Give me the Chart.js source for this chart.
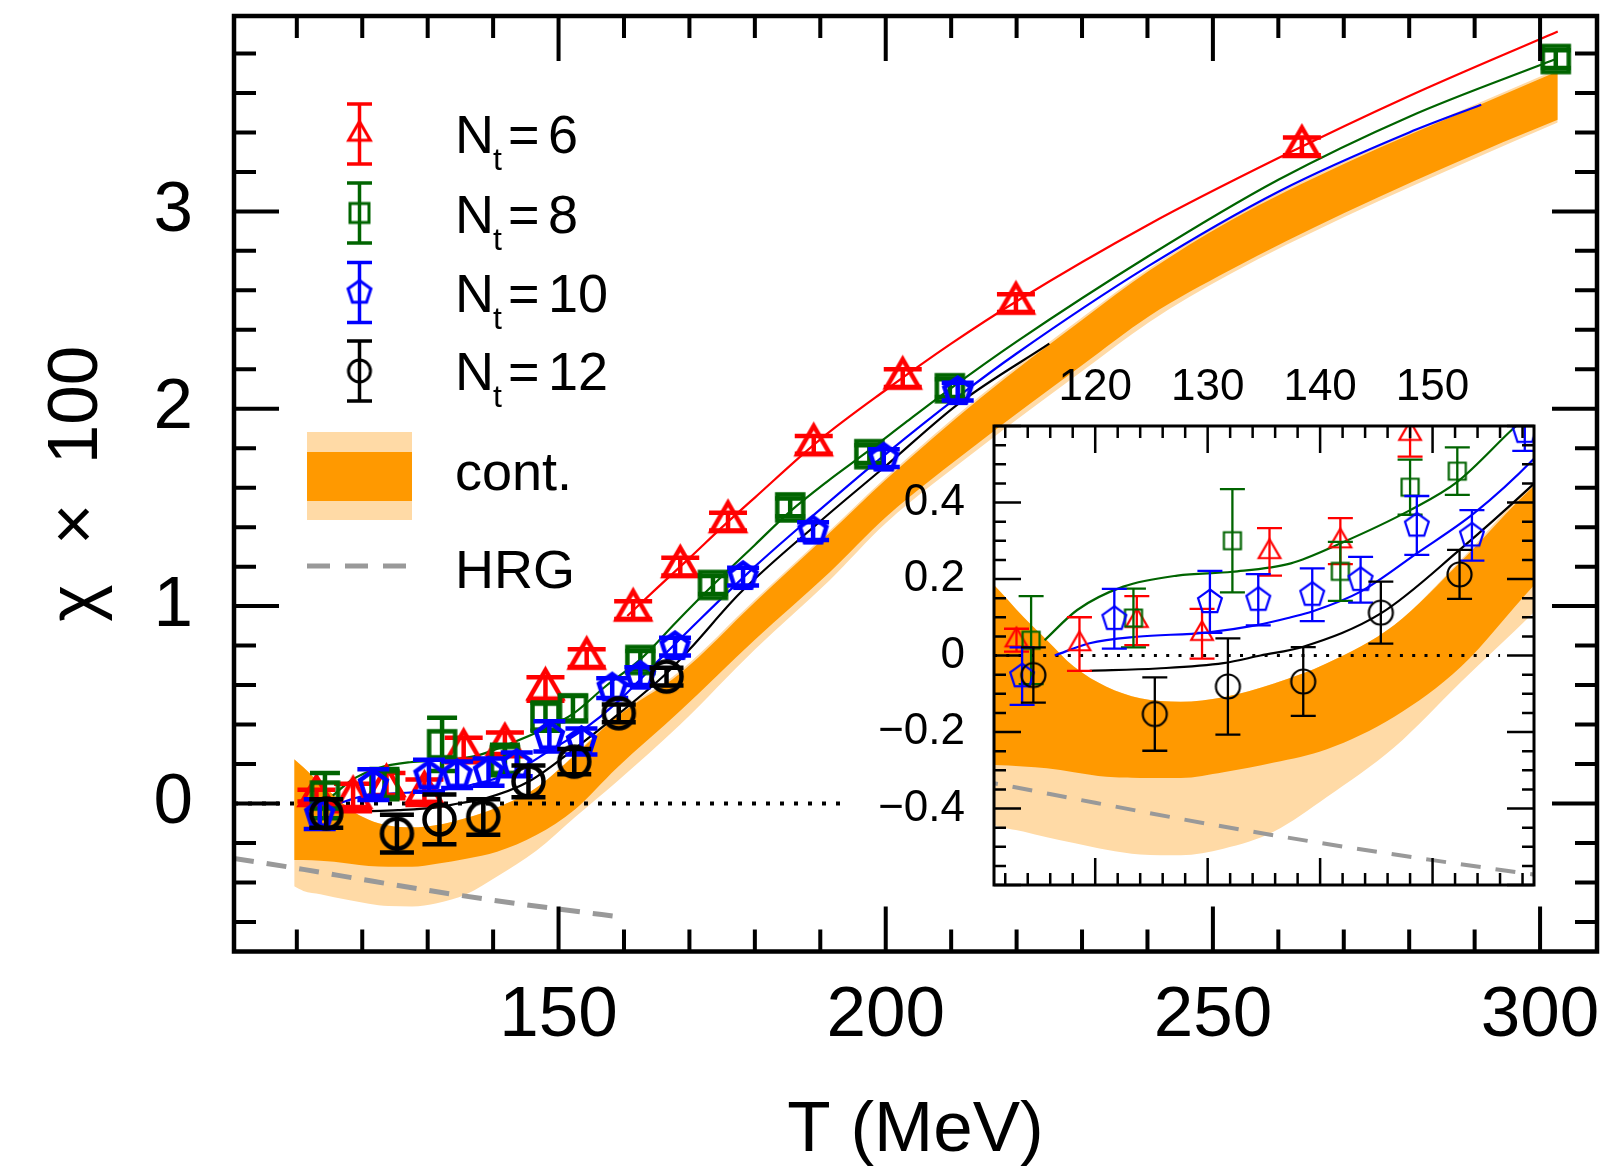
<!DOCTYPE html>
<html lang="en">
<head>
<meta charset="UTF-8">
<title>chi x 100 vs T</title>
<script src="https://cdn.jsdelivr.net/npm/chart.js"></script>
<style>
  body { margin: 0; background: #fff; overflow: hidden; }
  #wrap { position: relative; width: 1610px; height: 1167px; }
  #mainChart { position: absolute; left: 0; top: 0; }
  #insetChart { position: absolute; left: 830px; top: 340px; }
</style>
</head>
<body>
<div id="wrap">
  <canvas id="mainChart" width="1610" height="1167"></canvas>
  <canvas id="insetChart" width="720" height="560"></canvas>
</div>
<script>
const FONT = '"Liberation Sans", Arial, sans-serif';
const RED = '#ff0000', GREEN = '#006400', BLUE = '#0000ff', BLACK = '#000000';
const ORANGE = '#ff9900', ORANGE_LIGHT = '#ffdaa6', GREY = '#999999';

// lattice points, one array per Nt
const tempNt6 = [113.0, 118.6, 123.7, 129.5, 135.5, 141.8, 148.0, 154.3, 161.4, 168.6, 175.9, 189.0, 202.6, 219.9, 263.6];
const chiNt6  = [0.040, 0.030, 0.091, 0.057, 0.271, 0.299, 0.580, 0.736, 0.980, 1.200, 1.428, 1.817, 2.155, 2.535, 3.329];
const errNt6  = [0.030, 0.070, 0.064, 0.065, 0.062, 0.060, 0.060, 0.045, 0.045, 0.045, 0.045, 0.045, 0.045, 0.045, 0.045];

const tempNt8 = [114.3, 123.4, 132.2, 141.8, 148.0, 152.2, 162.5, 173.6, 185.4, 197.5, 209.8, 302.4];
const chiNt8  = [0.040, 0.098, 0.300, 0.220, 0.440, 0.482, 0.727, 1.107, 1.500, 1.770, 2.104, 3.772];
const errNt8  = [0.115, 0.077, 0.135, 0.077, 0.072, 0.062, 0.045, 0.045, 0.045, 0.045, 0.045, 0.045];

const tempNt10 = [113.5, 121.7, 130.2, 134.5, 139.3, 143.6, 148.6, 153.5, 158.2, 162.5, 167.8, 178.2, 188.9, 199.7, 211.0];
const chiNt10  = [-0.054, 0.096, 0.140, 0.146, 0.159, 0.198, 0.340, 0.314, 0.585, 0.645, 0.795, 1.150, 1.380, 1.750, 2.087];
const errNt10  = [0.075, 0.078, 0.081, 0.067, 0.069, 0.060, 0.077, 0.066, 0.050, 0.045, 0.045, 0.045, 0.045, 0.045, 0.045];

const tempNt12 = [114.5, 125.3, 131.8, 138.5, 145.4, 152.4, 159.2, 166.5];
const chiNt12  = [-0.051, -0.153, -0.081, -0.068, 0.112, 0.212, 0.457, 0.643];
const errNt12  = [0.072, 0.096, 0.126, 0.090, 0.081, 0.064, 0.045, 0.045];

// fitted curves
const fitTNt6   = [160.5, 165, 170, 175, 180, 190, 200, 210, 220, 240, 260, 280, 302.7];
const fitChiNt6 = [0.95, 1.09, 1.243, 1.40, 1.55, 1.845, 2.095, 2.33, 2.545, 2.93, 3.27, 3.585, 3.912];

const fitTNt8   = [115.5, 118.4, 122.5, 127.3, 132.2, 137.4, 141.8, 148, 152.2, 157.2, 162.5, 168, 173.6, 180, 185.4, 191, 197.5, 203, 209.8, 220, 240, 260, 280, 302.4];
const fitChiNt8 = [0.04, 0.119, 0.18, 0.209, 0.219, 0.241, 0.293, 0.38, 0.454, 0.594, 0.73, 0.92, 1.107, 1.31, 1.48, 1.63, 1.79, 1.93, 2.10, 2.34, 2.77, 3.16, 3.48, 3.772];

const fitTNt10   = [116.4, 119.5, 123.7, 129.9, 134.5, 137.4, 139.3, 143.6, 148.6, 153.7, 158.9, 165, 170, 180, 190, 200, 211, 220, 240, 260, 280, 291];
const fitChiNt10 = [0.0, 0.032, 0.049, 0.06, 0.08, 0.1, 0.115, 0.167, 0.267, 0.372, 0.511, 0.715, 0.88, 1.20, 1.49, 1.77, 2.06, 2.28, 2.72, 3.10, 3.40, 3.54];

const fitTNt12   = [119.5, 125.5, 131.4, 134.7, 138.5, 145.4, 152.4, 158.9, 166.5, 170, 177.7, 190, 200, 211.3, 225];
const fitChiNt12 = [-0.04, -0.034, -0.02, 0.0, 0.023, 0.11, 0.276, 0.446, 0.66, 0.78, 1.065, 1.43, 1.71, 2.03, 2.33];

// continuum band
const bandT       = [109.6, 111, 113.6, 115.7, 118.1, 121, 124, 127.6, 131.4, 135.9, 140.6, 146.6, 152.5, 158.9, 168.6, 180, 191.4, 200, 214.3, 230, 240.3, 252.5, 270, 291.5, 302.7];
const bandDarkHi  = [0.224, 0.184, 0.101, 0.04, -0.029, -0.082, -0.112, -0.121, -0.109, -0.073, -0.02, 0.08, 0.245, 0.44, 0.66, 1.02, 1.37, 1.64, 2.05, 2.45, 2.70, 2.95, 3.24, 3.55, 3.71];
const bandDarkLo  = [-0.286, -0.286, -0.29, -0.295, -0.305, -0.317, -0.32, -0.32, -0.305, -0.28, -0.245, -0.16, -0.03, 0.18, 0.47, 0.83, 1.17, 1.45, 1.83, 2.22, 2.47, 2.70, 2.99, 3.31, 3.464];
const bandLightHi = [0.224, 0.184, 0.101, 0.04, -0.029, -0.082, -0.112, -0.121, -0.109, -0.073, -0.02, 0.08, 0.25, 0.45, 0.672, 1.032, 1.382, 1.652, 2.062, 2.462, 2.712, 2.962, 3.252, 3.562, 3.722];
const bandLightLo = [-0.42, -0.443, -0.46, -0.475, -0.49, -0.508, -0.52, -0.522, -0.505, -0.46, -0.37, -0.24, -0.07, 0.11, 0.40, 0.78, 1.13, 1.42, 1.80, 2.19, 2.44, 2.68, 2.97, 3.29, 3.45];

// HRG and the zero reference
const hrgT   = [100.4, 111, 120, 130, 140, 150, 160];
const hrgChi = [-0.278, -0.334, -0.385, -0.44, -0.49, -0.535, -0.577];
const zeroMainT  = [100.4, 193.5];
const zeroInsetT = [111, 156];

// tick labels
const mainXLabels  = [150, 200, 250, 300];
const mainYLabels  = [0, 1, 2, 3];
const insetXLabels = [120, 130, 140, 150];
const insetYLabels = [-0.4, -0.2, 0, 0.2, 0.4];
const insetTMax = 159;
const legendNt = ['6', '8', '10', '12'];

Chart.defaults.font.family = FONT;
Chart.defaults.color = '#000';

function pts(xs, ys) { return xs.map((x, i) => ({ x: x, y: ys[i] })); }
function onStep(v, step) { const q = v / step; return Math.abs(q - Math.round(q)) < 1e-6; }
function inList(v, list) { return list.some(l => Math.abs(l - v) < 1e-6); }

function marker(shape, color, r, lw) {
  const size = Math.ceil(2 * r + 2 * lw + 4);
  const c = document.createElement('canvas');
  c.width = size; c.height = size;
  const g = c.getContext('2d');
  const cx = size / 2, cy = size / 2;
  g.strokeStyle = color; g.lineWidth = lw; g.lineJoin = 'miter';
  g.beginPath();
  if (shape === 'circle') {
    g.arc(cx, cy, r, 0, 2 * Math.PI);
  } else if (shape === 'square') {
    g.rect(cx - r, cy - r, 2 * r, 2 * r);
  } else {
    const n = shape === 'triangle' ? 3 : 5;
    for (let k = 0; k < n; k++) {
      const a = -Math.PI / 2 + k * 2 * Math.PI / n;
      const px = cx + r * Math.cos(a), py = cy + r * Math.sin(a);
      if (k === 0) g.moveTo(px, py); else g.lineTo(px, py);
    }
  }
  g.closePath();
  g.stroke();
  return c;
}

const markerSize = {
  main:   { triangle: [19, 4.5], square: [13, 4.5], pentagon: [14, 4.5], circle: [15, 4.5] },
  inset:  { triangle: [12.5, 2.2], square: [8.5, 2.2], pentagon: [12.5, 2.2], circle: [12, 2.2] },
  legend: { triangle: [12.5, 3], square: [9.5, 3], pentagon: [12, 3], circle: [11, 3] }
};
const capMain = { triangle: 38, square: 30, pentagon: 32, circle: 34 };

const series = [
  { nt: legendNt[0], color: RED,   shape: 'triangle', T: tempNt6,  chi: chiNt6,  err: errNt6,  fT: fitTNt6,  fC: fitChiNt6,  order: 4 },
  { nt: legendNt[1], color: GREEN, shape: 'square',   T: tempNt8,  chi: chiNt8,  err: errNt8,  fT: fitTNt8,  fC: fitChiNt8,  order: 3 },
  { nt: legendNt[2], color: BLUE,  shape: 'pentagon', T: tempNt10, chi: chiNt10, err: errNt10, fT: fitTNt10, fC: fitChiNt10, order: 2 },
  { nt: legendNt[3], color: BLACK, shape: 'circle',   T: tempNt12, chi: chiNt12, err: errNt12, fT: fitTNt12, fC: fitChiNt12, order: 1 }
];

function buildDatasets(kind) {
  const big = kind === 'main';
  const edge = { pointRadius: 0, borderWidth: 1, borderColor: 'rgba(0,0,0,0)', cubicInterpolationMode: 'monotone' };
  const sets = [
    Object.assign({ data: pts(bandT, bandLightHi), fill: '+1', backgroundColor: ORANGE_LIGHT, order: 20 }, edge),
    Object.assign({ data: pts(bandT, bandLightLo), fill: false, order: 20 }, edge),
    Object.assign({ data: pts(bandT, bandDarkHi), fill: '+1', backgroundColor: ORANGE, order: 19 }, edge),
    Object.assign({ data: pts(bandT, bandDarkLo), fill: false, order: 19 }, edge),
    { data: pts(hrgT, hrgChi), borderColor: GREY, borderWidth: big ? 5 : 4, borderDash: big ? [20, 13] : [20, 15],
      pointRadius: 0, fill: false, cubicInterpolationMode: 'monotone', order: 18 },
    { data: pts(big ? zeroMainT : zeroInsetT, [0, 0]), borderColor: BLACK, borderWidth: big ? 4 : 3,
      borderDash: big ? [4, 10] : [3, 9.3], pointRadius: 0, fill: false, order: 17 }
  ];
  series.forEach((s, i) => {
    sets.push({ data: pts(s.fT, s.fC), borderColor: s.color, borderWidth: 2.2, pointRadius: 0, fill: false,
      cubicInterpolationMode: 'monotone', order: 10 + i });
  });
  series.forEach(s => {
    const ms = markerSize[kind][s.shape];
    // the inset only shows the points inside its own temperature window
    const keep = s.T.map(t => big || t <= insetTMax);
    sets.push({ label: 'N_t=' + s.nt,
      data: pts(s.T, s.chi).filter((p, i) => keep[i]),
      errors: s.err.filter((e, i) => keep[i]),
      capWidth: big ? capMain[s.shape] : 25,
      showLine: false, borderColor: s.color, pointStyle: marker(s.shape, s.color, ms[0], ms[1]), pointRadius: 10,
      order: s.order });
  });
  return sets;
}

// frame with inward ticks on all four sides
const framePlugin = {
  id: 'frameTicks',
  afterDatasetsDraw(chart, args, o) {
    const { ctx, chartArea: a, scales: { x, y } } = chart;
    ctx.save();
    ctx.strokeStyle = '#000';
    ctx.lineWidth = o.tickWidth;
    ctx.beginPath();
    x.ticks.forEach(t => {
      if (!onStep(t.value, o.xStep)) return;
      const len = onStep(t.value, o.xMajor) ? o.major : o.minor;
      const px = x.getPixelForValue(t.value);
      ctx.moveTo(px, a.bottom); ctx.lineTo(px, a.bottom - len);
      ctx.moveTo(px, a.top); ctx.lineTo(px, a.top + len);
    });
    y.ticks.forEach(t => {
      if (!onStep(t.value, o.yStep)) return;
      const len = onStep(t.value, o.yMajor) ? o.major : o.minor;
      const py = y.getPixelForValue(t.value);
      ctx.moveTo(a.left, py); ctx.lineTo(a.left + len, py);
      ctx.moveTo(a.right, py); ctx.lineTo(a.right - len, py);
    });
    ctx.stroke();
    ctx.lineWidth = o.frameWidth;
    ctx.strokeRect(a.left, a.top, a.right - a.left, a.bottom - a.top);
    ctx.restore();
  }
};

const errorBarPlugin = {
  id: 'errorBars',
  afterDatasetDraw(chart, args, o) {
    const ds = chart.data.datasets[args.index];
    if (!ds.errors) return;
    const { ctx, chartArea: a, scales: { x, y } } = chart;
    ctx.save();
    if (o.clip) { ctx.beginPath(); ctx.rect(a.left, a.top, a.right - a.left, a.bottom - a.top); ctx.clip(); }
    ctx.strokeStyle = ds.borderColor;
    ctx.lineWidth = o.width;
    const half = ds.capWidth / 2;
    ctx.beginPath();
    ds.data.forEach((p, i) => {
      const e = ds.errors[i];
      const px = x.getPixelForValue(p.x);
      const lo = y.getPixelForValue(p.y - e), hi = y.getPixelForValue(p.y + e);
      ctx.moveTo(px, lo); ctx.lineTo(px, hi);
      ctx.moveTo(px - half, lo); ctx.lineTo(px + half, lo);
      ctx.moveTo(px - half, hi); ctx.lineTo(px + half, hi);
    });
    ctx.stroke();
    ctx.restore();
  }
};

// legend in the top-left corner of the main panel
const legendPlugin = {
  id: 'sketchLegend',
  afterDraw(chart) {
    const ctx = chart.ctx;
    const mx = 359.5;
    const rowY = [134, 213, 292.5, 371];
    const baseY = [153, 233, 312, 390];
    ctx.save();
    series.forEach((s, i) => {
      const ms = markerSize.legend[s.shape];
      const img = marker(s.shape, s.color, ms[0], ms[1]);
      ctx.strokeStyle = s.color;
      ctx.lineWidth = 3.5;
      ctx.beginPath();
      ctx.moveTo(mx, rowY[i] - 30); ctx.lineTo(mx, rowY[i] + 30);
      ctx.moveTo(mx - 12.5, rowY[i] - 30); ctx.lineTo(mx + 12.5, rowY[i] - 30);
      ctx.moveTo(mx - 12.5, rowY[i] + 30); ctx.lineTo(mx + 12.5, rowY[i] + 30);
      ctx.stroke();
      ctx.drawImage(img, mx - img.width / 2, rowY[i] - img.height / 2);
      ctx.fillStyle = '#000';
      ctx.textBaseline = 'alphabetic';
      ctx.font = '54px ' + FONT;
      ctx.fillText('N', 455, baseY[i]);
      ctx.font = '32px ' + FONT;
      ctx.fillText('t', 493, baseY[i] + 17);
      ctx.font = '54px ' + FONT;
      ctx.fillText('=', 508, baseY[i]);
      ctx.fillText(s.nt, 548, baseY[i]);
    });
    ctx.fillStyle = ORANGE_LIGHT;
    ctx.fillRect(307, 432, 105, 88);
    ctx.fillStyle = ORANGE;
    ctx.fillRect(307, 452, 105, 49);
    ctx.fillStyle = '#000';
    ctx.font = '54px ' + FONT;
    ctx.fillText('cont.', 455, 490);
    ctx.fillText('HRG', 455, 587.5);
    ctx.strokeStyle = GREY;
    ctx.lineWidth = 5;
    ctx.setLineDash([23, 15]);
    ctx.beginPath();
    ctx.moveTo(307, 566); ctx.lineTo(410, 566);
    ctx.stroke();
    ctx.restore();
  }
};

function fmtInsetY(v) {
  if (Math.abs(v) < 1e-9) return '0';
  return (v < 0 ? '\u2212' : '') + Math.abs(v).toFixed(1);
}

new Chart(document.getElementById('mainChart'), {
  type: 'line',
  data: { datasets: buildDatasets('main') },
  options: {
    responsive: false,
    animation: false,
    devicePixelRatio: 1,
    layout: { padding: { left: 0, top: 16, right: 13, bottom: 0 } },
    plugins: {
      legend: { display: false },
      tooltip: { enabled: false },
      errorBars: { width: 4.5, clip: false },
      frameTicks: { xStep: 10, xMajor: 50, yStep: 0.2, yMajor: 1, major: 45, minor: 22, tickWidth: 4, frameWidth: 4.5 }
    },
    scales: {
      x: {
        type: 'linear', min: 100.4, max: 308.7,
        grid: { display: false, drawTicks: false }, border: { display: false },
        ticks: { stepSize: 10, includeBounds: false, autoSkip: false, maxRotation: 0, padding: 29.5,
          font: { size: 71, lineHeight: 1 }, color: '#000',
          callback: v => inList(v, mainXLabels) ? String(Math.round(v)) : '' },
        title: { display: true, text: 'T (MeV)', color: '#000', font: { size: 71, lineHeight: 1 }, padding: { top: 0, bottom: 0 } },
        afterFit: s => { s.height = 215.5; s.paddingLeft = 0; s.paddingRight = 0; }
      },
      y: {
        type: 'linear', position: 'left', min: -0.75, max: 3.99,
        grid: { display: false, drawTicks: false }, border: { display: false },
        ticks: { stepSize: 0.2, includeBounds: false, autoSkip: false, padding: 41,
          font: { size: 71, lineHeight: 1 }, color: '#000',
          callback: v => inList(v, mainYLabels) ? String(Math.round(v)) : '' },
        title: { display: true, text: '\u03c7  \u00d7  100', color: '#000', font: { size: 71, lineHeight: 1 }, padding: { top: 41.5, bottom: 0 } },
        afterFit: s => { s.width = 234; s.paddingTop = 0; s.paddingBottom = 0; }
      }
    }
  },
  plugins: [framePlugin, errorBarPlugin, legendPlugin]
});

// max is nudged off 159 so the 2 MeV ticks stay on even values
new Chart(document.getElementById('insetChart'), {
  type: 'line',
  data: { datasets: buildDatasets('inset') },
  options: {
    responsive: false,
    animation: false,
    devicePixelRatio: 1,
    layout: { padding: { left: 0, top: 0, right: 16, bottom: 15 } },
    plugins: {
      legend: { display: false },
      tooltip: { enabled: false },
      errorBars: { width: 2.3, clip: true },
      frameTicks: { xStep: 2, xMajor: 10, yStep: 0.05, yMajor: 0.2, major: 27, minor: 12, tickWidth: 2.5, frameWidth: 3 }
    },
    scales: {
      x: {
        type: 'linear', position: 'top', min: 111, max: 159.02,
        grid: { display: false, drawTicks: false }, border: { display: false },
        ticks: { stepSize: 2, includeBounds: false, autoSkip: false, maxRotation: 0, padding: 16,
          font: { size: 44, lineHeight: 1 }, color: '#000',
          callback: v => inList(v, insetXLabels) ? String(Math.round(v)) : '' },
        afterFit: s => { s.height = 86; s.paddingLeft = 0; s.paddingRight = 0; }
      },
      y: {
        type: 'linear', position: 'left', min: -0.6, max: 0.6,
        grid: { display: false, drawTicks: false }, border: { display: false },
        ticks: { stepSize: 0.05, includeBounds: false, autoSkip: false, padding: 29,
          font: { size: 44, lineHeight: 1 }, color: '#000',
          callback: v => inList(v, insetYLabels) ? fmtInsetY(v) : '' },
        afterFit: s => { s.width = 164; s.paddingTop = 0; s.paddingBottom = 0; }
      }
    }
  },
  plugins: [framePlugin, errorBarPlugin]
});
</script>
</body>
</html>
